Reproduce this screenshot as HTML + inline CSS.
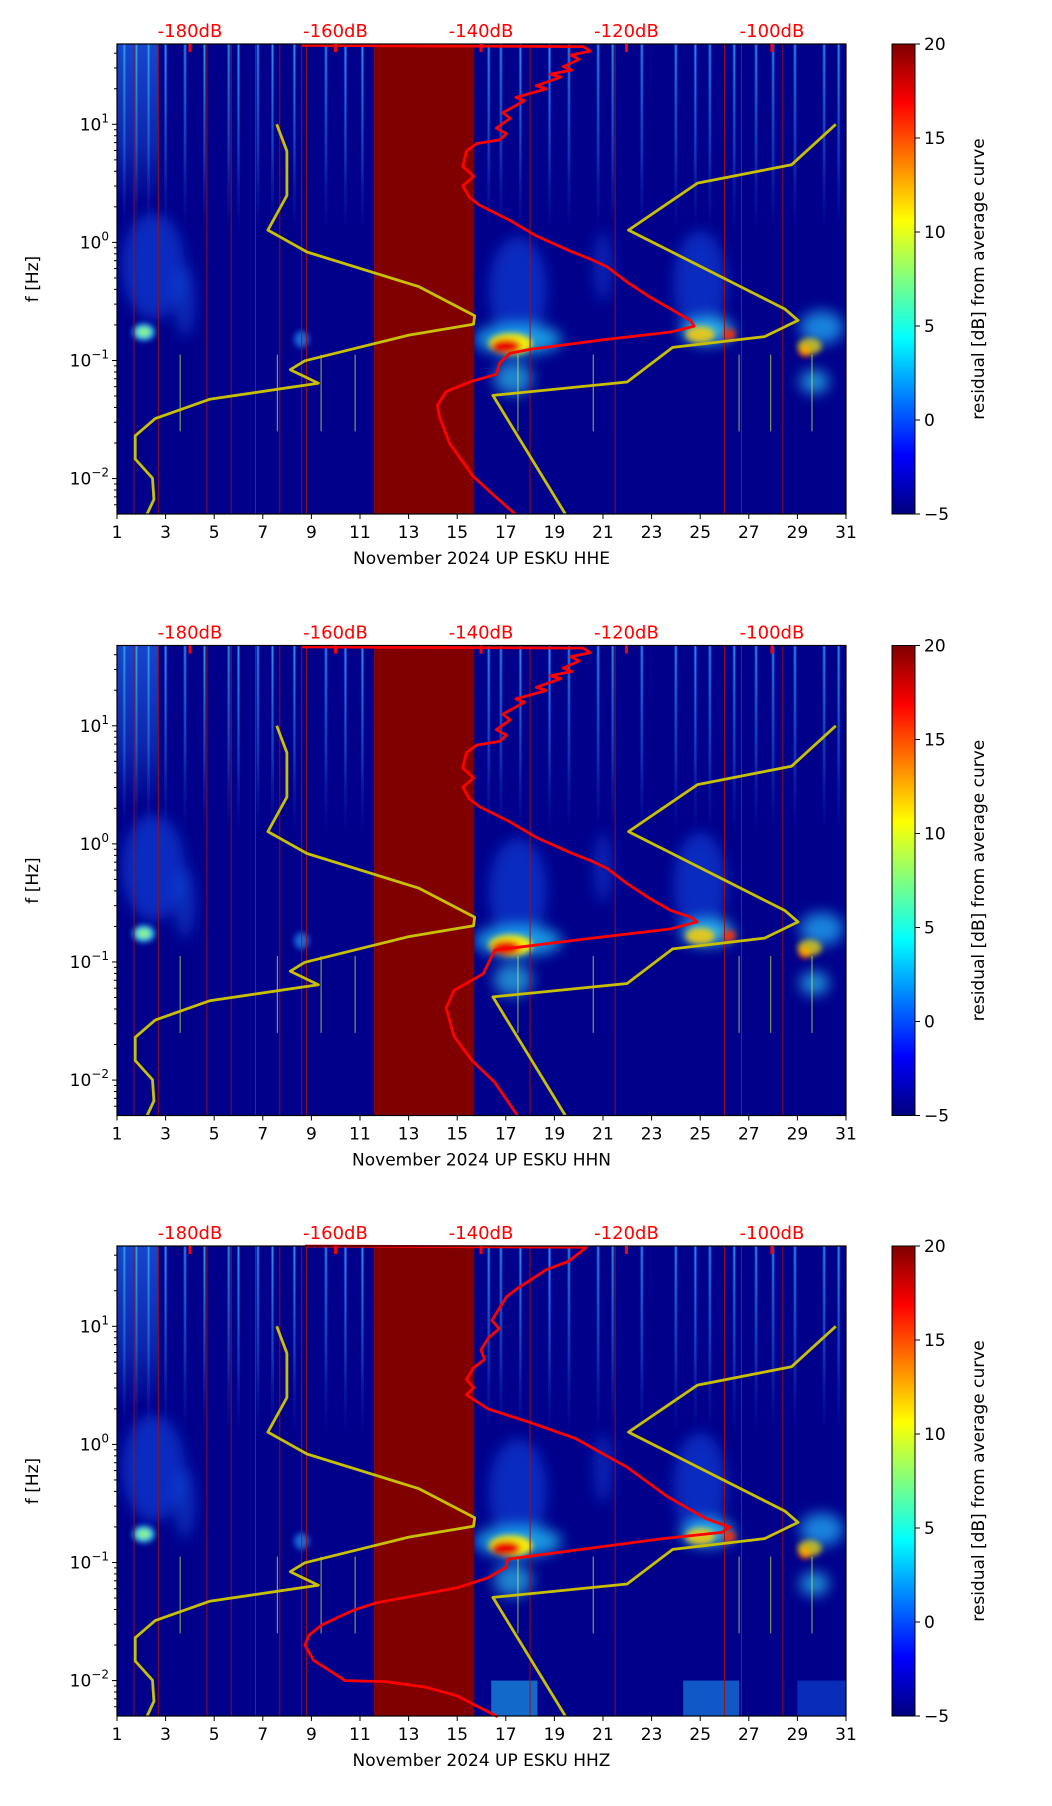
<!DOCTYPE html>
<html><head><meta charset="utf-8">
<style>
html,body{margin:0;padding:0;background:#fff;}
svg{display:block;font-family:"DejaVu Sans","Liberation Sans",sans-serif;}
</style></head>
<body>
<svg id="fig" width="1052" height="1806" viewBox="0 0 1052 1806" xmlns="http://www.w3.org/2000/svg">
<defs>
<filter id="blur" x="-50%" y="-50%" width="200%" height="200%"><feGaussianBlur stdDeviation="7"/></filter>
<filter id="blurS" x="-80%" y="-80%" width="260%" height="260%"><feGaussianBlur stdDeviation="3"/></filter>
<linearGradient id="jet" x1="0" y1="1" x2="0" y2="0">
<stop offset="0" stop-color="#00007f"/><stop offset="0.125" stop-color="#0000ff"/>
<stop offset="0.375" stop-color="#00ffff"/><stop offset="0.625" stop-color="#ffff00"/>
<stop offset="0.875" stop-color="#ff0000"/><stop offset="1" stop-color="#7f0000"/>
</linearGradient>
<linearGradient id="fade" x1="0" y1="0" x2="0" y2="1">
<stop offset="0" stop-color="#2a80ff" stop-opacity="0.55"/><stop offset="0.6" stop-color="#2a80ff" stop-opacity="0.3"/><stop offset="1" stop-color="#2a80ff" stop-opacity="0"/>
</linearGradient>
<linearGradient id="fadeC" x1="0" y1="0" x2="0" y2="1">
<stop offset="0" stop-color="#40e0ff" stop-opacity="0.5"/><stop offset="1" stop-color="#40e0ff" stop-opacity="0"/>
</linearGradient>
</defs>
</svg>
<script>
// ---- data ----
const channels = ["HHE","HHN","HHZ"];
const dbTicks = [-180,-160,-140,-120,-100];
const dayTicks = [1,3,5,7,9,11,13,15,17,19,21,23,25,27,29,31];
const cbTicks = [20,15,10,5,0,-5];
const yDecades = [1,0,-1,-2];
// yellow curves (day, log10 f)
const yelA_day = [7.57,7.99,7.99,7.21,8.82,13.43,15.72,15.67,13.01,8.73,8.13,9.29,4.81,2.57,1.75,1.75,2.46,2.52,2.24];
const yelA_lf  = [1.0,0.772,0.397,0.104,-0.081,-0.375,-0.622,-0.694,-0.785,-1.003,-1.078,-1.192,-1.329,-1.492,-1.638,-1.834,-1.997,-2.176,-2.30];
const yelB_day = [19.45,16.47,21.99,23.87,27.65,29.03,28.48,22.05,24.89,28.76,30.58];
const yelB_lf  = [-2.30,-1.296,-1.182,-0.889,-0.798,-0.661,-0.564,0.104,0.502,0.658,1.0];
// red curves (dB, log10 f)
const red1_db = [-164.6,-125.9,-125.0,-127.7,-126.5,-128.7,-127.5,-130.5,-129.0,-132.4,-131.0,-135.2,-134.0,-137.0,-136.0,-137.9,-136.5,-137.4,-140.6,-142.0,-142.5,-141.0,-142.5,-141.6,-140.2,-136.0,-132.4,-127.7,-125.0,-122.7,-119.9,-116.7,-113.9,-111.2,-110.7,-113.9,-123.1,-133.3,-136.0,-137.4,-137.9,-141.6,-144.8,-146.0,-145.7,-144.3,-141.1,-137.9,-135.3];
const red1_lf  = [1.668,1.658,1.619,1.586,1.55,1.489,1.46,1.423,1.40,1.326,1.30,1.228,1.20,1.098,1.05,0.967,0.92,0.870,0.837,0.772,0.642,0.56,0.479,0.381,0.316,0.186,0.055,-0.075,-0.140,-0.205,-0.336,-0.466,-0.564,-0.661,-0.710,-0.759,-0.824,-0.906,-0.938,-1.020,-1.117,-1.182,-1.264,-1.378,-1.476,-1.704,-1.980,-2.160,-2.30];
const red2_db = [-164.6,-125.9,-125.0,-127.7,-126.5,-128.7,-127.5,-130.5,-129.0,-132.4,-131.0,-135.2,-134.0,-137.0,-136.0,-137.9,-136.5,-137.4,-140.6,-142.0,-142.5,-141.0,-142.5,-141.6,-140.2,-136.0,-132.4,-127.7,-125.0,-122.7,-119.9,-116.7,-113.9,-111.2,-110.3,-113.9,-125.0,-138.1,-139.7,-143.7,-144.8,-143.7,-141.3,-138.1,-135.0];
const red2_lf  = [1.668,1.658,1.619,1.586,1.55,1.489,1.46,1.423,1.40,1.326,1.30,1.228,1.20,1.098,1.05,0.967,0.92,0.870,0.837,0.772,0.642,0.56,0.479,0.381,0.316,0.186,0.055,-0.075,-0.140,-0.205,-0.336,-0.466,-0.564,-0.62,-0.66,-0.72,-0.80,-0.90,-1.10,-1.24,-1.39,-1.63,-1.83,-2.02,-2.30];
const red3_db = [-164.2,-125.5,-126.5,-128.0,-131.0,-133.0,-135.0,-136.5,-137.5,-138.5,-137.5,-139.0,-140.0,-139.5,-141.0,-142.0,-141.0,-142.0,-139.0,-133.0,-127.0,-120.0,-114.4,-109.0,-105.8,-106.9,-115.3,-136.3,-136.6,-139.0,-143.3,-154.5,-157.3,-159.4,-161.9,-163.6,-164.2,-163.0,-160.1,-158.7,-153.1,-147.5,-143.3,-137.7];
const red3_lf  = [1.68,1.67,1.62,1.55,1.48,1.40,1.32,1.25,1.15,1.05,0.98,0.90,0.80,0.72,0.65,0.55,0.48,0.42,0.30,0.18,0.05,-0.19,-0.44,-0.63,-0.70,-0.745,-0.80,-0.971,-1.043,-1.129,-1.214,-1.343,-1.40,-1.457,-1.529,-1.614,-1.70,-1.829,-1.943,-2.0,-2.009,-2.057,-2.129,-2.306];
const redDb = [red1_db, red2_db, red3_db];
const redLf = [red1_lf, red2_lf, red3_lf];
// spectrogram blobs: day, lf, rx(days), ry(decades), colour, opacity
const blobDay = [2.5,3.8,2.1,2.1,8.6,17.5,17.5,17.2,17.0,17.3,21,25.0,25.3,25.0,26.2,30,29.3,29.5,29.7];
const blobLf  = [-0.2,-0.5,-0.76,-0.76,-0.82,-0.4,-0.82,-0.86,-0.88,-1.15,-0.2,-0.35,-0.75,-0.78,-0.78,-0.72,-0.92,-0.88,-1.18];
const blobRx  = [1.3,0.4,0.45,0.25,0.3,1.2,1.8,0.9,0.6,0.8,0.4,1.1,1.1,0.6,0.25,0.9,0.25,0.5,0.6];
const blobRy  = [0.45,0.3,0.07,0.04,0.07,0.45,0.13,0.09,0.06,0.14,0.3,0.45,0.11,0.07,0.05,0.14,0.05,0.07,0.1];
const blobCol = ['#1560ff','#1f6fff','#33ddff','#aaff55','#2299ff','#1060ff','#22ccff','#ffee00','#e80000','#33ddff','#1560ff','#1560ff','#33ddff','#ffcc00','#ff3000','#22bbff','#e81000','#ffee00','#33ddff'];
const blobOp  = [0.45,0.4,0.9,0.8,0.7,0.45,0.75,0.95,1,0.6,0.35,0.45,0.8,0.85,0.95,0.7,1,0.7,0.65];
const streakDays = [1.3,1.8,2.3,3.0,3.8,4.6,5.6,6.0,6.8,7.4,8.3,9.6,10.4,11.1,16.3,16.8,17.6,18.8,19.6,20.8,21.4,22.6,24.0,24.8,25.4,26.4,27.3,28.0,28.9,30.1,30.7];
const redLineDays = [1.7,2.7,4.7,5.7,6.7,7.7,8.6,8.8,11.6,18.0,21.5,26.0,26.7,28.4];
const spikeDays = [3.6,7.6,9.4,10.8,17.5,20.6,26.6,27.9,29.6];
const bandStart = 11.6, bandEnd = 15.7;

// ---- layout ----
const NS = "http://www.w3.org/2000/svg";
const svg = document.getElementById('fig');
const L = 117, W = 729, H = 470;
const tops = [44, 645.5, 1246];
const LFTOP = 1.68, LFBOT = -2.30;
const CBX = 892, CBW = 23;
function mk(tag, attrs, parent){const e=document.createElementNS(NS,tag);for(const k in attrs)e.setAttribute(k,attrs[k]);(parent||svg).appendChild(e);return e;}
const X = d => L + (d-1)/30*W;
const Y = (lf,t) => t + (LFTOP-lf)/(LFTOP-LFBOT)*H;
const DBX = db => 190 + (db+180)/20*145.5;

tops.forEach((T, p) => {
  const g = mk('g', {});
  
  
  const cp = mk('clipPath', {id:'clip'+p}, g);
  mk('rect', {x:L,y:T,width:W,height:H}, cp);
  const plot = mk('g', {'clip-path':'url(#clip'+p+')'}, g);
  
  
  mk('rect', {x:L,y:T,width:W,height:H,fill:'#00008b'}, plot);
  mk('rect', {x:X(1),y:T,width:X(2.7)-X(1),height:Y(0.3,T)-T,fill:'url(#fade)'}, plot);
  streakDays.forEach(d => {
    const s = mk('rect', {x:X(d)-1.5,y:T,width:3,height:Y(0.1,T)-T,fill:'url(#fade)'}, plot);
    
    
    mk('rect', {x:X(d)-0.5,y:T,width:1,height:Y(0.5,T)-T,fill:'url(#fadeC)'}, plot);
  });
  const bg = mk('g', {filter:'url(#blur)'}, plot);
  const bs = mk('g', {filter:'url(#blurS)'}, plot);
  blobDay.forEach((d,i) => {
    const e = mk('ellipse', {cx:X(d),cy:Y(blobLf[i],T),rx:blobRx[i]/30*W,ry:blobRy[i]/(LFTOP-LFBOT)*H,fill:blobCol[i],opacity:blobOp[i]}, blobRy[i] <= 0.09 ? bs : bg);
    
    
  });
  spikeDays.forEach(d => {
    const s = mk('line', {x1:X(d),x2:X(d),y1:Y(-0.95,T),y2:Y(-1.6,T),stroke:'#ccff44','stroke-width':1.2,opacity:0.6}, plot);
    
    
  });
  if (p === 2) {
    [[16.4,18.3,'#20c0ff',0.55],[24.3,26.6,'#20b0ff',0.5],[29,31,'#1a70ff',0.4]].forEach(b => {
      const r = mk('rect', {x:X(b[0]),y:Y(-2.0,T),width:X(b[1])-X(b[0]),height:Y(LFBOT,T)-Y(-2.0,T),fill:b[2],opacity:b[3]}, plot);
      
      
    });
  }
  redLineDays.forEach(d => {
    const s = mk('line', {x1:X(d),x2:X(d),y1:T,y2:T+H,stroke:'#a01010','stroke-width':1,opacity:0.9}, plot);
    
    
  });
  const band = mk('rect', {x:X(bandStart),y:T,width:X(bandEnd)-X(bandStart),height:H,fill:'#800000'}, plot);
  
  
  [[yelA_day,yelA_lf],[yelB_day,yelB_lf]].forEach(([ds,ls]) => {
    const pts = ds.map((d,i)=>X(d).toFixed(1)+','+Y(ls[i],T).toFixed(1)).join(' ');
    const pl = mk('polyline', {points:pts,fill:'none',stroke:'#c8c000','stroke-width':2.8,'stroke-linejoin':'round'}, plot);
    
    
  });
  const rp = redDb[p].map((db,i)=>DBX(db).toFixed(1)+','+Y(redLf[p][i],T).toFixed(1)).join(' ');
  const rl = mk('polyline', {points:rp,fill:'none',stroke:'#ff0000','stroke-width':2.8,'stroke-linejoin':'round'}, g);
  
  
  mk('rect', {x:L,y:T,width:W,height:H,fill:'none',stroke:'#000','stroke-width':1.2}, g);
  dayTicks.forEach(d => {
    mk('line', {x1:X(d),x2:X(d),y1:T+H,y2:T+H+5,stroke:'#000','stroke-width':1}, g);
    const t = mk('text', {x:X(d),y:T+H+24,'text-anchor':'middle','font-size':17}, g);
    t.textContent = d;
    
    
  });
  const xl = mk('text', {x:L+W/2,y:T+H+50,'text-anchor':'middle','font-size':17}, g);
  xl.textContent = 'November 2024 UP ESKU  ' + channels[p];
  
  
  for (let dec=-3; dec<=1; dec++) {
    for (let k=1;k<10;k++){
      const lf = dec + Math.log10(k);
      if (lf < LFBOT || lf > LFTOP) continue;
      const len = k===1?5:3;
      mk('line', {x1:L-len,x2:L,y1:Y(lf,T),y2:Y(lf,T),stroke:'#000','stroke-width':1}, g);
    }
  }
  yDecades.forEach(dec => {
    const t = mk('text', {x:L-8,y:Y(dec,T)+6,'text-anchor':'end','font-size':17}, g);
    
    
    t.appendChild(document.createTextNode('10'));
    const s = mk('tspan', {dy:-8,'font-size':12}, t);
    s.textContent = dec < 0 ? '\u2212'+(-dec) : String(dec);
  });
  const yl = mk('text', {x:0,y:0,'text-anchor':'middle','font-size':17,transform:`translate(38,${T+H/2}) rotate(-90)`}, g);
  yl.textContent = 'f [Hz]';
  
  
  dbTicks.forEach(db => {
    mk('line', {x1:DBX(db),x2:DBX(db),y1:T,y2:T+8,stroke:'#ff0000','stroke-width':3}, g);
    const t = mk('text', {x:DBX(db),y:T-7,'text-anchor':'middle','font-size':18,fill:'#ff0000'}, g);
    t.textContent = db+'dB';
    
    
  });
  const cb = mk('rect', {x:CBX,y:T,width:CBW,height:H,fill:'url(#jet)',stroke:'#000','stroke-width':1}, g);
  
  
  cbTicks.forEach(v => {
    const yy = T + (20-v)/25*H;
    mk('line', {x1:CBX+CBW,x2:CBX+CBW+5,y1:yy,y2:yy,stroke:'#000','stroke-width':1}, g);
    const t = mk('text', {x:CBX+CBW+9,y:yy+6,'font-size':17}, g);
    t.textContent = v < 0 ? '\u2212'+(-v) : String(v);
    
    
  });
  const cl = mk('text', {x:0,y:0,'text-anchor':'middle','font-size':17,transform:`translate(984,${T+H/2}) rotate(-90)`}, g);
  cl.textContent = 'residual [dB] from average curve';
  
  
});
</script>
</body></html>
